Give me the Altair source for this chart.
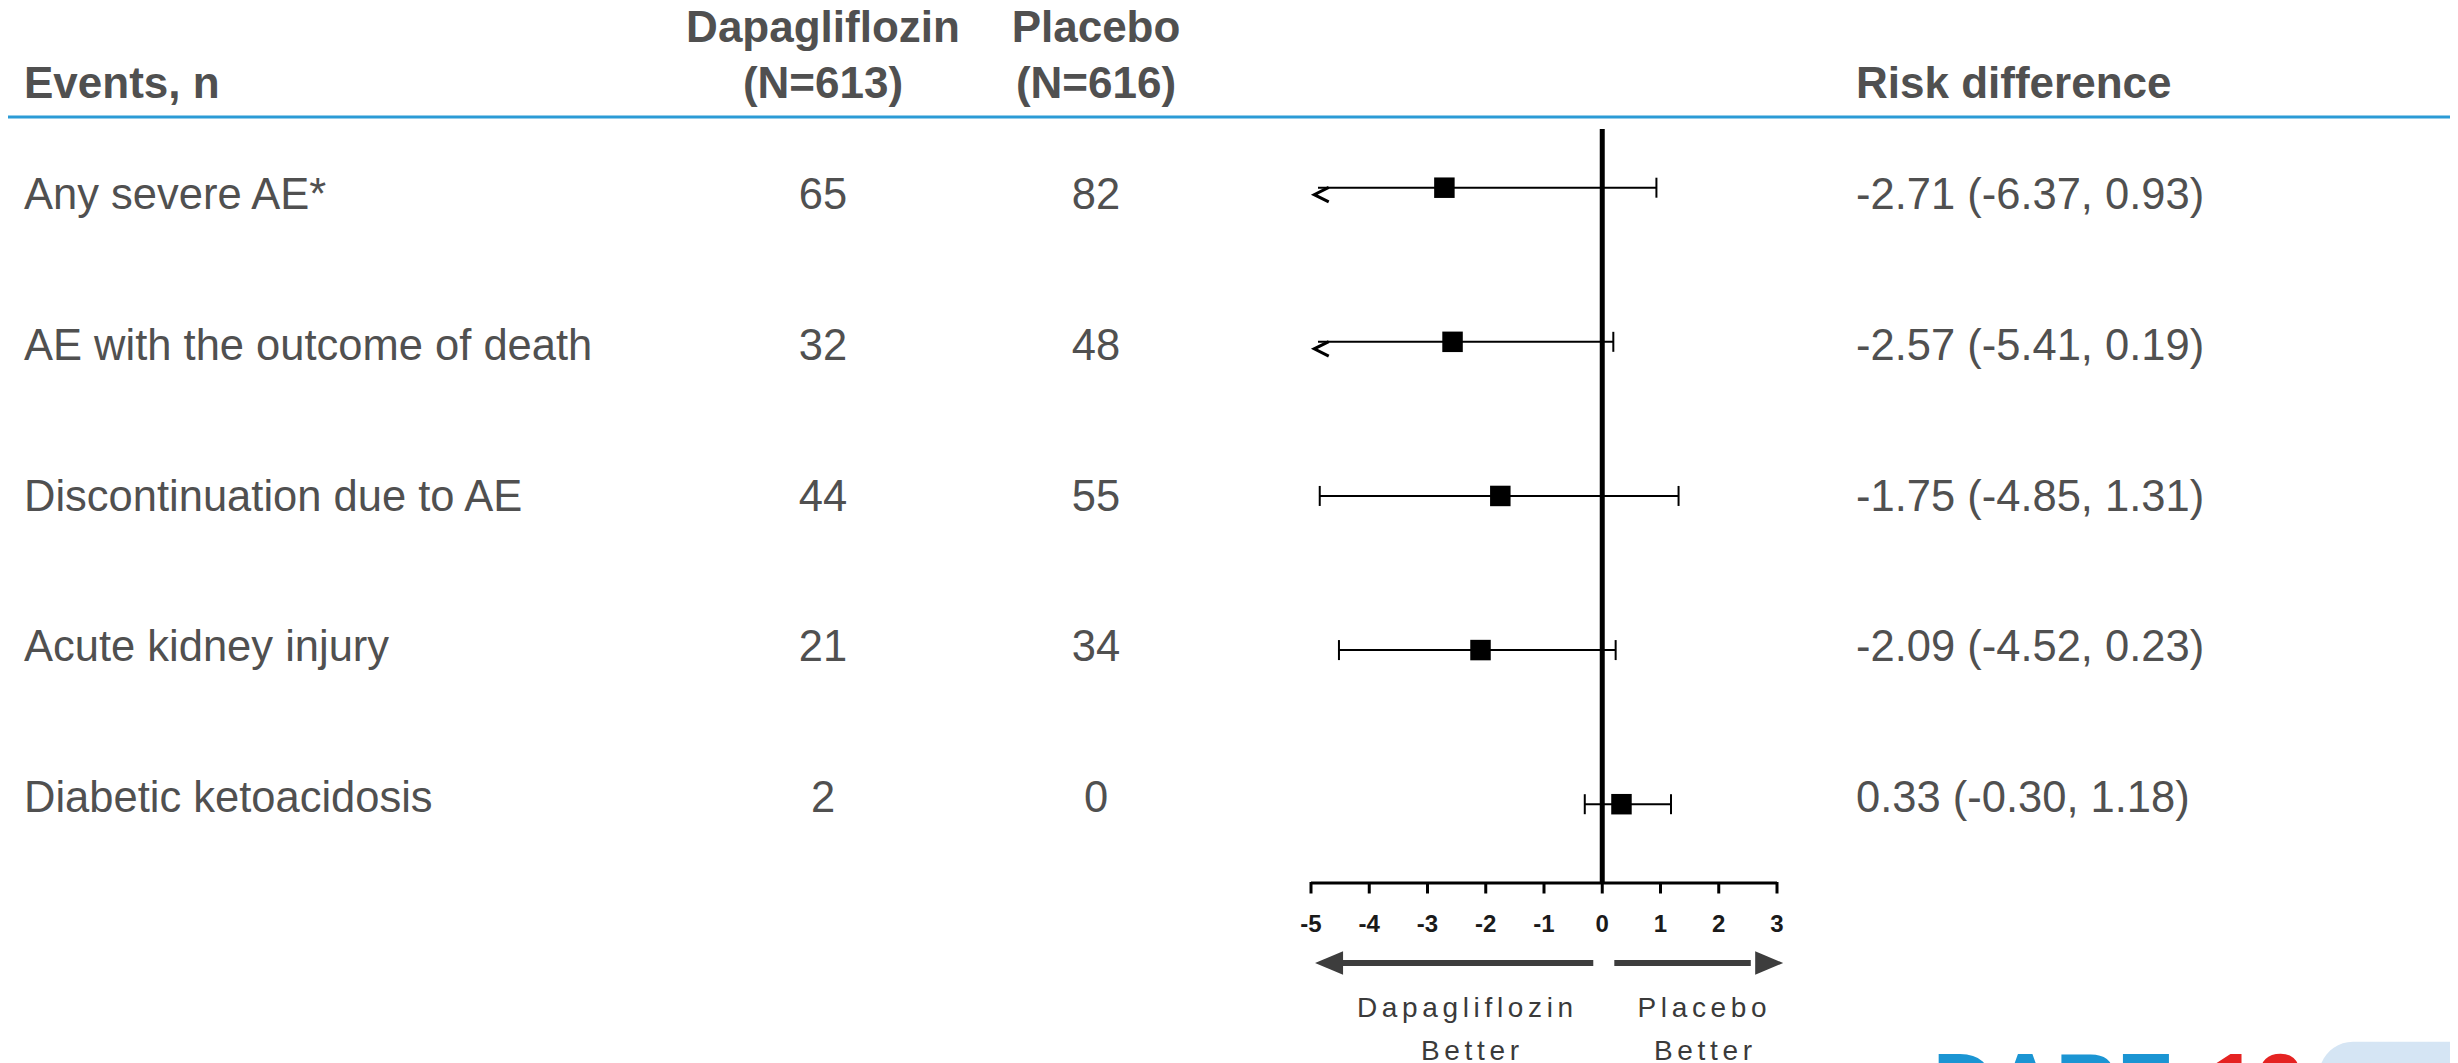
import altair as alt
import pandas as pd

# ---------------- data ----------------
events = [
    "Any severe AE*",
    "AE with the outcome of death",
    "Discontinuation due to AE",
    "Acute kidney injury",
    "Diabetic ketoacidosis",
]
dapa_n = [65, 32, 44, 21, 2]
placebo_n = [82, 48, 55, 34, 0]
rd = [-2.71, -2.57, -1.75, -2.09, 0.33]
rd_lo = [-6.37, -5.41, -4.85, -4.52, -0.30]
rd_hi = [0.93, 0.19, 1.31, 0.23, 1.18]
tick_values = [-5, -4, -3, -2, -1, 0, 1, 2, 3]
tick_labels = [str(v) for v in tick_values]

AXIS_MIN, AXIS_MAX = min(tick_values), max(tick_values)
CLIP = AXIS_MIN + 0.12  # where an out-of-range CI is cut and marked with "<"

df = pd.DataFrame({
    "row": list(range(len(events))),
    "event": events,
    "dapa": [str(v) for v in dapa_n],
    "placebo": [str(v) for v in placebo_n],
    "rd": rd,
    "lo": rd_lo,
    "hi": rd_hi,
})
df["lo_clip"] = df["lo"].clip(lower=CLIP)
df["rd_label"] = [f"{a:.2f} ({b:.2f}, {c:.2f})" for a, b, c in zip(rd, rd_lo, rd_hi)]

ticks_df = pd.DataFrame({"t": tick_values, "lab": tick_labels})
domain_df = pd.DataFrame({"a": [AXIS_MIN], "b": [AXIS_MAX]})
zero_df = pd.DataFrame({"v": [0]})
arrows_df = pd.DataFrame({
    "dir": ["left", "right"],
    "shaft_from": [-4.50, 0.207],
    "shaft_to": [-0.154, 2.55],
    "head": [-4.69, 2.866],
})

# ---------------- style ----------------
W, H = 2442, 1055
FONT = "Liberation Sans"
GRAY = "#505050"
BLUE = "#2b9bd6"
one = pd.DataFrame({"k": [0]})

x_scale = alt.Scale(domain=[AXIS_MIN, AXIS_MAX], range=[1303, 1769], zero=False, nice=False)
y_text = alt.Scale(domain=[0, 4], range=[201, 804], zero=False, nice=False)
y_forest = alt.Scale(domain=[0, 4], range=[179.7, 796.2], zero=False, nice=False)

base = alt.Chart(df)
X = lambda f: alt.X(f, scale=x_scale, axis=None)
YT = alt.Y("row:Q", scale=y_text, axis=None)
YF = alt.Y("row:Q", scale=y_forest, axis=None)


def static_text(txt, x, y, size=44, weight="normal", align="left", color=GRAY, font=FONT):
    return alt.Chart(one).mark_text(
        align=align, baseline="alphabetic", font=font, fontSize=size,
        fontWeight=weight, color=color,
    ).encode(x=alt.value(x), y=alt.value(y), text=alt.value(txt))


layers = []

# header
layers += [
    static_text("Events, n", 16, 90.3, weight="bold"),
    static_text("Dapagliflozin", 815, 33.7, weight="bold", align="center"),
    static_text("(N=613)", 815, 90.3, weight="bold", align="center"),
    static_text("Placebo", 1088, 33.7, weight="bold", align="center"),
    static_text("(N=616)", 1088, 90.3, weight="bold", align="center"),
    static_text("Risk difference", 1848, 90.3, weight="bold"),
    alt.Chart(one).mark_rule(color=BLUE, strokeWidth=3).encode(
        x=alt.value(0), x2=alt.value(W), y=alt.value(109)),
]

# table columns
txt = dict(baseline="alphabetic", font=FONT, fontSize=43.5, color=GRAY)
layers += [
    base.mark_text(align="left", **txt).encode(x=alt.value(16), y=YT, text="event:N"),
    base.mark_text(align="center", **txt).encode(x=alt.value(815), y=YT, text="dapa:N"),
    base.mark_text(align="center", **txt).encode(x=alt.value(1088), y=YT, text="placebo:N"),
    base.mark_text(align="left", **txt).encode(x=alt.value(1848), y=YT, text="rd_label:N"),
]

# forest plot
layers += [
    alt.Chart(zero_df).mark_rule(color="black", strokeWidth=5).encode(
        x=X("v:Q"), y=alt.value(121), y2=alt.value(875)),
    base.mark_rule(color="black", strokeWidth=2).encode(x=X("lo_clip:Q"), x2="hi:Q", y=YF),
    base.mark_tick(orient="vertical", size=20, thickness=2, color="black", opacity=1).encode(
        x=X("hi:Q"), y=YF),
    base.transform_filter(alt.datum.lo >= AXIS_MIN).mark_tick(
        orient="vertical", size=20, thickness=2, color="black", opacity=1).encode(
        x=X("lo:Q"), y=YF),
    base.transform_filter(alt.datum.lo < AXIS_MIN).mark_point(
        shape="M1,-1L-1,0L1,1", size=210, filled=False, color="black",
        strokeWidth=3, opacity=1, xOffset=3.5, yOffset=7).encode(x=X("lo_clip:Q"), y=YF),
    base.mark_square(size=420, color="black", opacity=1).encode(x=X("rd:Q"), y=YF),
]

# axis
layers += [
    alt.Chart(domain_df).mark_rule(color="black", strokeWidth=3).encode(
        x=X("a:Q"), x2="b:Q", y=alt.value(875)),
    alt.Chart(ticks_df).mark_rule(color="black", strokeWidth=3).encode(
        x=X("t:Q"), y=alt.value(874), y2=alt.value(885.5)),
    alt.Chart(ticks_df).mark_text(
        align="center", baseline="alphabetic", font=FONT, fontSize=24,
        fontWeight="bold", color="#1a1a1a").encode(
        x=X("t:Q"), y=alt.value(923.5), text="lab:N"),
]

# direction arrows
ARROW = "#3d3d3d"
layers += [
    alt.Chart(arrows_df).mark_rule(color=ARROW, strokeWidth=6).encode(
        x=X("shaft_from:Q"), x2="shaft_to:Q", y=alt.value(955)),
    alt.Chart(arrows_df).mark_point(filled=True, size=784, opacity=1, color=ARROW,
                                    strokeWidth=0).encode(
        x=X("head:Q"), y=alt.value(955),
        shape=alt.Shape("dir:N", scale=alt.Scale(
            domain=["left", "right"],
            range=["M-1,0L1,-0.84L1,0.84Z", "M1,0L-1,-0.84L-1,0.84Z"]), legend=None)),
]

sp = "\u2006"
BT = "#3a3a3a"
layers += [
    static_text(sp.join("Dapagliflozin"), 1457, 1008.7, size=28, align="center", color=BT),
    static_text(sp.join("Better"), 1462, 1052, size=28, align="center", color=BT),
    static_text(sp.join("Placebo"), 1694, 1008.7, size=28, align="center", color=BT),
    static_text(sp.join("Better"), 1695, 1052, size=28, align="center", color=BT),
]

# logo (cut by bottom edge)
layers += [
    alt.Chart(one).mark_rect(color="#d5e5f4", cornerRadius=34).encode(
        x=alt.value(2311), x2=alt.value(W + 60), y=alt.value(1033.7), y2=alt.value(H + 60)),
    static_text("DARE", 1925, 1104.6, size=85, weight="bold", color="#1b95d3"),
    static_text("19", 2202, 1104.6, size=85, weight="bold", color="#e52322"),
]

chart = (
    alt.layer(*layers)
    .properties(width=W, height=H, padding=0, autosize=alt.AutoSizeParams(type="none"),
                background="white")
    .resolve_scale(y="independent")
    .configure_view(stroke=None)
)

chart.save("out.html", embed_options={"renderer": "svg", "actions": False})
